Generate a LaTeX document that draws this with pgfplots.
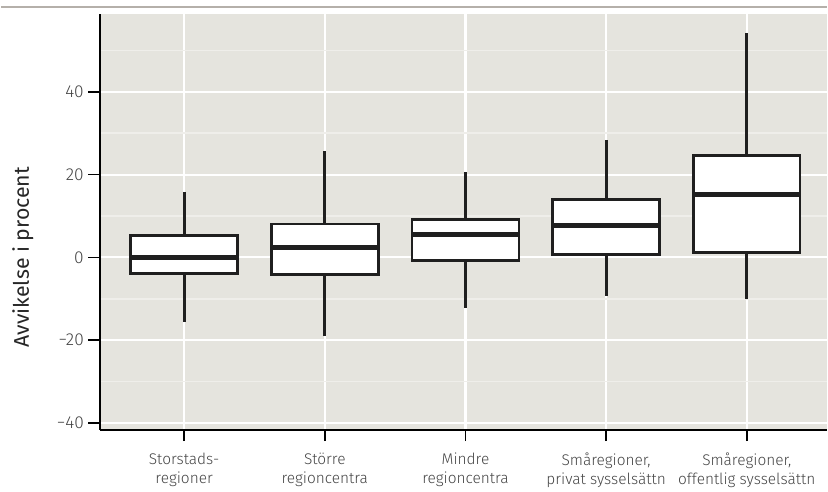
\documentclass[border=0pt]{standalone}
\usepackage{fontspec}
\setmainfont{Fira Sans Light}
\newfontfamily\labelfont{Fira Sans}
\usepackage{pgfplots}
\pgfplotsset{compat=1.18}
\usepgfplotslibrary{statistics}
\definecolor{panel}{HTML}{E5E4DE}
\definecolor{minorg}{HTML}{EFEEEA}
\definecolor{ticktext}{HTML}{444444}
\definecolor{topline}{HTML}{B5B0AA}
\begin{document}
\begin{tikzpicture}
\begin{axis}[
  width=546.75pt, height=312.75pt,
  scale only axis,
  xmin=0.4, xmax=5.57,
  ymin=-41.7, ymax=58.8,
  axis x line*=bottom, axis y line*=left,
  axis line style={-, black, line width=1.2pt},
  axis background/.style={fill=panel},
  xtick={1,2,3,4,5},
  xticklabels={{Storstads-\\regioner}, {Större\\regioncentra}, {Mindre\\regioncentra}, {Småregioner,\\privat sysselsättn}, {Småregioner,\\offentlig sysselsättn}},
  xticklabel style={align=center, font=\fontsize{11.6}{14.3}\selectfont, text=ticktext, yshift=-5pt},
  ytick={-40,-20,0,20,40},
  yticklabels={−40,−20,0,20,40},
  yticklabel style={font=\fontsize{13}{15}\selectfont, text=ticktext},
  minor ytick={-30,-10,10,30,50},
  minor tick length=0pt,
  tick align=outside,
  major tick length=8.5pt,
  tick style={black, line width=1.1pt},
  xmajorgrids, ymajorgrids, yminorgrids,
  major grid style={white, line width=1.6pt},
  minor grid style={minorg, line width=1.2pt},
  ylabel={Avvikelse i procent},
  ylabel style={at={(rel axis cs:-0.1056,0.415)}, anchor=center, font=\labelfont\fontsize{16}{19}\selectfont, text=black!85},
  boxplot/draw direction=y,
  boxplot/box extend=0.76,
  boxplot/whisker extend=0,
  boxplot/every box/.style={fill=white, draw=black!88, line width=1.9pt},
  boxplot/every median/.style={black!88, line width=3.6pt},
  boxplot/every whisker/.style={black!88, line width=2.1pt},
  clip=false,
]
\addplot+[boxplot prepared={draw position=1, lower whisker=-15.7, lower quartile=-3.9, median=0, upper quartile=5.3, upper whisker=15.7}, black, mark=none] coordinates {};
\addplot+[boxplot prepared={draw position=2, lower whisker=-19.0, lower quartile=-4.1, median=2.4, upper quartile=8.0, upper whisker=25.8}, black, mark=none] coordinates {};
\addplot+[boxplot prepared={draw position=3, lower whisker=-12.3, lower quartile=-0.7, median=5.5, upper quartile=9.2, upper whisker=20.7}, black, mark=none] coordinates {};
\addplot+[boxplot prepared={draw position=4, lower whisker=-9.4, lower quartile=0.7, median=7.7, upper quartile=14.0, upper whisker=28.4}, black, mark=none] coordinates {};
\addplot+[boxplot prepared={draw position=5, lower whisker=-10.1, lower quartile=1.2, median=15.2, upper quartile=24.6, upper whisker=54.2}, black, mark=none] coordinates {};
% top rule across the page
\draw[topline, line width=1.5pt] (rel axis cs:-0.1358,1.0168) -- (rel axis cs:1,1.0168);
\path (rel axis cs:-0.1358,1.0336);
\end{axis}
\end{tikzpicture}
\end{document}
